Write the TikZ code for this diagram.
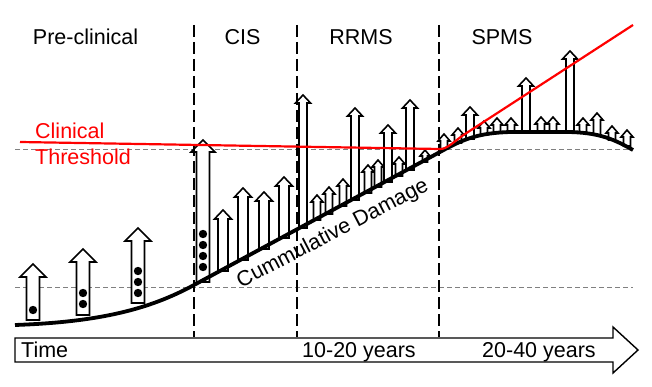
\documentclass[tikz,border=0pt]{standalone}
\usepackage{fontspec}
\setmainfont{Liberation Sans}
% x, bottom y, tip y, shaft width, head width, head height
\newcommand\blockup[6]{%
  \draw[blockarrow] ({#1-#4/2},#2) -- ({#1-#4/2},{#3+#6}) -- ({#1-#5/2},{#3+#6}) -- (#1,#3)
    -- ({#1+#5/2},{#3+#6}) -- ({#1+#4/2},{#3+#6}) -- ({#1+#4/2},#2) -- cycle;}
\newcommand\bigup[3]{\blockup{#1}{#2}{#3}{13}{26}{13}}
\newcommand\medup[3]{\blockup{#1}{#2}{#3}{10}{17}{9}}
\newcommand\tallup[3]{\blockup{#1}{#2}{#3}{8}{15}{8}}
\newcommand\smallup[3]{\blockup{#1}{#2}{#3}{7}{12}{7}}
\newcommand\sdot[2]{\fill (#1,#2) circle[radius=4.2pt];}
\begin{document}
\begin{tikzpicture}[x=1pt,y=-1pt,
  lbl/.style={font=\fontsize{21.5}{25}\selectfont, inner sep=0pt},
  redlbl/.style={lbl, text=red},
  blockarrow/.style={draw=black, fill=white, line width=1.6pt, line join=miter},
  phaseline/.style={black, line width=1.8pt, dash pattern=on 12pt off 5pt},
  guide/.style={gray, line width=0.9pt, dash pattern=on 5pt off 3pt},
  damage/.style={black, line width=3.8pt},
  threshold/.style={red, line width=2.2pt}]
\fill[white] (0,0) rectangle (652,387);
\useasboundingbox (0,0) rectangle (652,387);

% guide lines
\draw[guide] (15,149) -- (633,149);
\draw[guide] (15,287) -- (633,287);

% pre-clinical arrows
\bigup{33}{320}{264}  \sdot{33}{310}
\bigup{83}{315}{249}  \sdot{83}{293} \sdot{83}{304}
\bigup{138}{303}{228} \sdot{138}{271} \sdot{138}{282} \sdot{138}{293}

% CIS
\blockup{203}{282}{140}{13}{24}{12}
\sdot{203}{234} \sdot{203}{245} \sdot{203}{256} \sdot{203}{267}
\medup{223}{271}{210}
\medup{243}{260}{188}
\medup{264}{249}{192}
\medup{284}{238}{177}

% RRMS
\tallup{303}{228}{95}
\smallup{317}{220}{195}
\smallup{329}{214}{187}
\smallup{343}{206}{179}
\tallup{355}{200}{108}
\smallup{368}{193}{165}
\smallup{378}{187}{160}
\tallup{388}{182}{125}
\smallup{399}{176}{157}
\tallup{410}{170}{100}
\blockup{425}{162}{150}{5}{10}{6}

% SPMS
\smallup{444}{149}{134}
\smallup{458}{143}{128}
\tallup{470}{139}{107}
\smallup{484}{135}{121}
\smallup{497}{133}{118}
\smallup{511}{132}{118}
\tallup{526}{132}{78}
\smallup{541}{132}{117}
\smallup{553}{132}{117}
\tallup{570}{132}{51}
\smallup{583}{133}{118}
\smallup{597}{135}{113}
\smallup{612}{140}{126}
\smallup{627}{146}{130}

% phase separators
\draw[phaseline] (194,25) -- (194,337);
\draw[phaseline] (297,25) -- (297,337);
\draw[phaseline] (439,25) -- (439,337);

% cumulative damage curve
\draw[damage] (15,325) .. controls (100,322) and (150,309) .. (194,285)
  -- (440,152) .. controls (465,138) and (480,133) .. (510,132)
  -- (565,132) .. controls (600,132) and (615,140) .. (633,150);

% clinical threshold
\draw[threshold] (20,142) -- (440,149) .. controls (447,149.5) and (455,140.5) .. (465,134) -- (633,25);

% time axis
\draw[line width=1.4pt, fill=white] (15,338) -- (613,338) -- (613,327) -- (638,350)
  -- (613,373) -- (613,362) -- (15,362) -- cycle;

% texts
\node[lbl, anchor=base] (pre) at (85.5,45) {Pre-clinical};
\node[lbl, anchor=base] (cis) at (242.5,45) {CIS};
\node[lbl, anchor=base] (rrms) at (361,45) {RRMS};
\node[lbl, anchor=base] (spms) at (502,45) {SPMS};
\node[redlbl, anchor=base west] (clin) at (35,139) {Clinical};
\node[redlbl, anchor=base west] (thr) at (35,165) {Threshold};
\node[lbl, anchor=base west] (time) at (21,357) {Time};
\node[lbl, anchor=base west] (y1) at (302,357) {10-20 years};
\node[lbl, anchor=base west] (y2) at (482,357) {20-40 years};
\node[lbl, rotate=27.5, anchor=base] (dmg) at (335.5,239) {Cummulative Damage};
\end{tikzpicture}
\end{document}
